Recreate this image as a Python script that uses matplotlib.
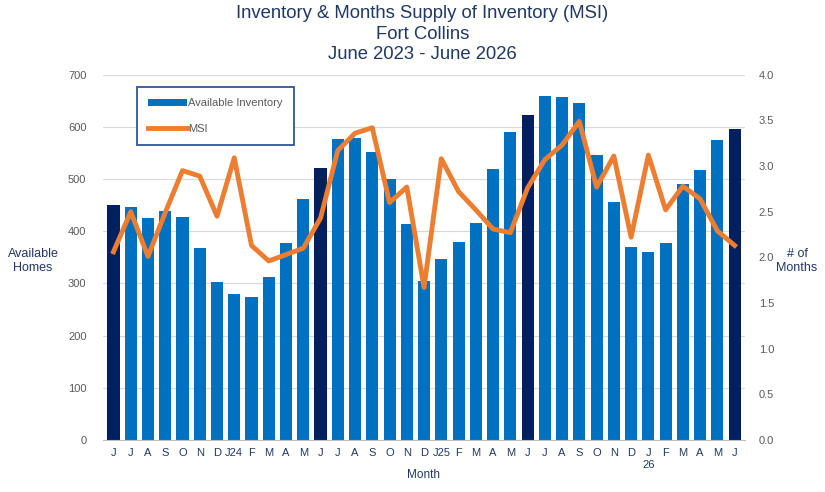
import matplotlib
matplotlib.use('Agg')

import matplotlib.pyplot as plt
import numpy as np
from matplotlib.patches import Patch
from matplotlib.lines import Line2D

plt.rcParams['font.family'] = ['Liberation Sans', 'DejaVu Sans']

# Month labels June 2023 - June 2026
months = ['J', 'J', 'A', 'S', 'O', 'N', 'D', 'J24', 'F', 'M', 'A', 'M',
          'J', 'J', 'A', 'S', 'O', 'N', 'D', 'J25', 'F', 'M', 'A', 'M',
          'J', 'J', 'A', 'S', 'O', 'N', 'D', 'J\n26', 'F', 'M', 'A', 'M', 'J']

inventory = [451, 447, 425, 438, 428, 367, 303, 280, 274, 313, 378, 461,
             522, 576, 578, 551, 501, 413, 305, 347, 380, 415, 520, 591,
             623, 660, 658, 646, 547, 457, 369, 361, 378, 491, 518, 574, 596]

msi = [2.06, 2.50, 2.01, 2.49, 2.95, 2.89, 2.45, 3.09, 2.13, 1.96, 2.03, 2.10,
       2.43, 3.17, 3.36, 3.42, 2.60, 2.77, 1.67, 3.08, 2.72, 2.52, 2.31, 2.27,
       2.76, 3.07, 3.23, 3.49, 2.77, 3.11, 2.22, 3.12, 2.52, 2.78, 2.64, 2.29, 2.13]

BLUE = '#0070C0'
DARK = '#002060'
ORANGE = '#ED7D31'
TITLE = '#203864'
TICK = '#595959'

x = np.arange(len(months))
# June bars are highlighted in dark navy
colors = [DARK if i % 12 == 0 else BLUE for i in range(len(months))]

fig = plt.figure(figsize=(8.25, 4.92), dpi=100)
ax = fig.add_axes([0.125, 0.106, 0.778, 0.742])

ax.bar(x, inventory, width=0.7, color=colors, zorder=2)
ax.set_ylim(0, 700)
ax.set_xlim(-0.6, len(months) - 0.4)
ax.set_yticks(np.arange(0, 701, 100))
ax.grid(True, axis='y', color='#D9D9D9', linewidth=0.8, zorder=0)
ax.set_axisbelow(True)
for s in ['top', 'right', 'left']:
    ax.spines[s].set_visible(False)
ax.spines['bottom'].set_color('#BFBFBF')
ax.tick_params(axis='both', length=0, colors=TICK, labelsize=8)
ax.tick_params(axis='x', pad=6)
ax.tick_params(axis='y', pad=12)
ax.set_xticks(x)
ax.set_xticklabels(months, color=TITLE)

# MSI line on the secondary axis
ax2 = ax.twinx()
ax2.plot(x, msi, color=ORANGE, linewidth=3.5, zorder=3)
ax2.set_ylim(0, 4.0)
ticks2 = np.arange(0, 4.01, 0.5)
ax2.set_yticks(ticks2)
ax2.set_yticklabels([f'{v:.1f}' for v in ticks2])
for s in ['top', 'right', 'left', 'bottom']:
    ax2.spines[s].set_visible(False)
ax2.tick_params(axis='y', length=0, colors=TICK, labelsize=8, pad=10)
ax2.patch.set_visible(False)

fig.text(0.04, 0.47, 'Available\nHomes', ha='center', va='center',
         fontsize=9, color=TITLE, linespacing=1.2)
fig.text(0.966, 0.47, '# of\nMonths', ha='center', va='center',
         fontsize=9, color=TITLE, linespacing=1.2)
fig.text(0.513, 0.035, 'Month', ha='center', va='center', fontsize=8.5, color=TITLE)

fig.text(0.512, 0.99, 'Inventory & Months Supply of Inventory (MSI)\nFort Collins\nJune 2023 - June 2026',
         ha='center', va='top', fontsize=13.3, color=TITLE, linespacing=1.28)

handles = [Patch(facecolor=BLUE, edgecolor='none'),
           Line2D([0], [0], color=ORANGE, linewidth=3.5)]
leg = ax2.legend(handles, ['Available Inventory', 'MSI'], loc='upper left',
                 bbox_to_anchor=(0.053, 0.966), fontsize=8, frameon=True,
                 fancybox=False, handlelength=3.5, handleheight=0.5,
                 labelspacing=1.4, borderpad=1.0, handletextpad=0.1,
                 borderaxespad=0, framealpha=1)
leg.get_frame().set_edgecolor('#2F5597')
leg.get_frame().set_linewidth(1.3)
for t in leg.get_texts():
    t.set_color(TICK)

fig.savefig('out.png', dpi=100)
